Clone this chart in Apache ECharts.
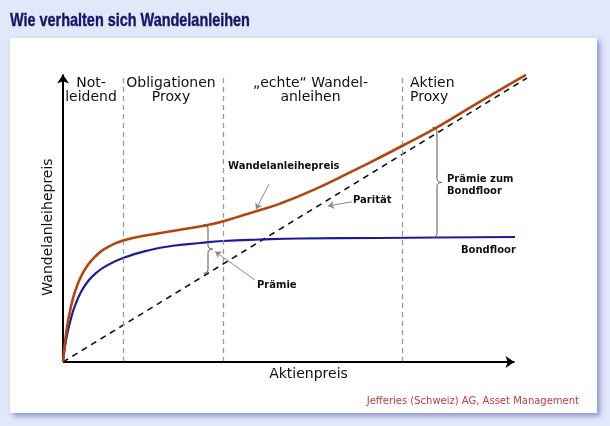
<!DOCTYPE html>
<html>
<head>
<meta charset="utf-8">
<script src="https://cdn.jsdelivr.net/npm/echarts@6/dist/echarts.min.js"></script>
<style>html,body{margin:0;padding:0;background:#e0e8fa;}#c{width:610px;height:426px;}</style>
</head>
<body>
<div id="c"></div>
<script>
// ---- data (x = Aktienpreis, y = Preis; relative units 0..100) ----
const priceCurve = [[0,0],[0.43,6.5],[0.86,11.5],[1.51,17],[2.59,23.5],[3.88,28.5],[5.39,32.4],[7.11,35.4],[9.05,37.8],[12.93,40.5],[18.75,42.4],[25.22,44.1],[31.68,45.8],[38.15,48.6],[41.81,50.3],[46.77,52.8],[53.88,57.3],[61.85,63.2],[67.67,67.7],[73.06,72.0],[80.6,78.2],[89.87,86.8],[99.78,95.67]];
const bondFloor = [[0,0],[0.43,5.2],[1.08,10.5],[1.72,14.5],[2.59,18.8],[3.88,23.3],[5.39,26.9],[7.11,29.6],[9.05,31.8],[12.93,34.67],[18.75,37.33],[24.14,38.83],[29.53,39.67],[34.48,40.33],[42.46,40.83],[51.08,41.17],[68.32,41.33],[80.6,41.5],[97.41,41.67]];
const parity = [[0,0],[100,94.67]];
const zoneBounds = [12.93, 34.48, 73.06];
const zoneLabels = ['Not-\nleidend', 'Obligationen\nProxy', '\u201Eechte\u201C Wandel-\nanleihen', 'Aktien\nProxy'];
const braces = [[31.25, 45.7, 29.6], [80.6, 78.2, 41.5]];
const arrows = [[[44.4,59.3],[41.6,50.9]], [[62.3,53.4],[57.1,52.0]], [[41.4,27.3],[32.8,36.8]]];
const axisEnds = {x: 97.3, y: 95.8};
const axisNames = {x: 'Aktienpreis', y: 'Wandelanleihepreis'};
const titleText = 'Wie verhalten sich Wandelanleihen';
const sourceText = 'Jefferies (Schweiz) AG, Asset Management';

const FONT = '"DejaVu Sans", Verdana, sans-serif';
const chart = echarts.init(document.getElementById('c'), null, {renderer: 'canvas'});

function px(x, y) { return chart.convertToPixel({gridIndex: 0}, [x, y]); }

const baseOption = {
  backgroundColor: '#e0e8fa',
  animation: false,
  grid: {left: 63, right: 83, top: 62, bottom: 64},
  xAxis: {type: 'value', min: 0, max: 100, show: false},
  yAxis: {type: 'value', min: 0, max: 100, show: false},
  series: [
    { name: 'zones', type: 'line', data: [], silent: true, z: 1,
      markLine: { silent: true, symbol: 'none', label: {show: false},
        lineStyle: {color: '#9a9a9a', width: 1.3, type: [5, 4]},
        emphasis: {disabled: true},
        data: zoneBounds.map(b => [{coord: [b, 0]}, {coord: [b, axisEnds.y]}]) } },
    { name: 'Parität', type: 'line', data: parity, symbol: 'none', silent: true, z: 3,
      lineStyle: {color: '#111', width: 1.6, type: [6, 5]} },
    { name: 'Bondfloor', type: 'line', data: bondFloor, symbol: 'none', silent: true, z: 4,
      smooth: 0.5,
      lineStyle: {color: '#1c1c98', width: 2.2} },
    { name: 'Wandelanleihepreis', type: 'line', data: priceCurve, symbol: 'none', silent: true, z: 5,
      smooth: 0.5,
      lineStyle: {color: '#b3450f', width: 2.6} },
    { name: 'arrows', type: 'line', data: [], silent: true, z: 6,
      markLine: { silent: true, symbol: ['none', 'arrow'], symbolSize: 6, label: {show: false},
        lineStyle: {color: '#8a8a8a', width: 1, type: 'solid'},
        emphasis: {disabled: true},
        data: arrows.map(a => [{coord: a[0]}, {coord: a[1]}]) } },
    { name: 'braces', type: 'custom', silent: true, z: 6,
      encode: {x: 0, y: [1, 2]},
      data: braces,
      renderItem: function (params, api) {
        const top = api.coord([api.value(0), api.value(1)]);
        const bot = api.coord([api.value(0), api.value(2)]);
        const sx = top[0], t = top[1], b = bot[1], m = (t + b) / 2, w = 4.5, r = 4;
        const d = 'M' + (sx - w) + ',' + t + ' Q' + sx + ',' + t + ' ' + sx + ',' + (t + r) +
          ' L' + sx + ',' + (m - r) + ' Q' + sx + ',' + m + ' ' + (sx + w) + ',' + m +
          ' Q' + sx + ',' + m + ' ' + sx + ',' + (m + r) + ' L' + sx + ',' + (b - r) +
          ' Q' + sx + ',' + b + ' ' + (sx - w) + ',' + b;
        return {type: 'path', shape: {pathData: d}, style: {stroke: '#555', fill: 'none', lineWidth: 1}};
      } },
    { name: 'axes', type: 'line', data: [], silent: true, z: 8,
      markLine: { silent: true, symbol: ['none', 'arrow'], symbolSize: 9, label: {show: false},
        lineStyle: {color: '#000', width: 2, type: 'solid'},
        emphasis: {disabled: true},
        data: [[{coord: [0, 0]}, {coord: [axisEnds.x, 0]}], [{coord: [0, 0]}, {coord: [0, axisEnds.y]}]] } }
  ]
};
chart.setOption(baseOption);

// ---- texts and panel, placed relative to the grid ----
const graphics = [
  {type: 'rect', z: -10, shape: {x: 10, y: 38, width: 587, height: 375},
   style: {fill: '#ffffff', shadowColor: 'rgba(70,80,170,0.55)', shadowBlur: 5, shadowOffsetX: 3, shadowOffsetY: 3}},
  {type: 'text', x: 10, y: 21, scaleX: 0.78, z: 20,
   style: {text: titleText, font: 'bold 18.5px "Liberation Sans", Arial, sans-serif', fill: '#15166a', verticalAlign: 'middle', stroke: '#15166a', lineWidth: 0.4}},
  {type: 'text', x: 579, y: 401.5, z: 20,
   style: {text: sourceText, font: '10px ' + FONT, fill: '#c33a3a', align: 'right', verticalAlign: 'middle'}}
];
// zone labels
const edges = [0].concat(zoneBounds).concat([100]);
zoneLabels.forEach((t, i) => {
  const last = i === zoneLabels.length - 1;
  const xl = px(edges[i], 0)[0], xr = px(edges[i + 1], 0)[0];
  const cx = last ? xl + 8 : (xl + xr) / 2 - 2;
  graphics.push({type: 'text', x: cx, y: 76, z: 20,
    style: {text: t, font: '14px ' + FONT, fill: '#111', align: last ? 'left' : 'center', verticalAlign: 'top', lineHeight: 14}});
});
// axis names
graphics.push({type: 'text', x: 308.5, y: 374.5, z: 20,
  style: {text: axisNames.x, font: '14px ' + FONT, fill: '#111', align: 'center', verticalAlign: 'middle'}});
graphics.push({type: 'text', x: 48, y: 227, rotation: Math.PI / 2, z: 20,
  style: {text: axisNames.y, font: '14px ' + FONT, fill: '#111', align: 'center', verticalAlign: 'middle'}});
// annotation labels
const notes = [
  ['Wandelanleihepreis', 228, 166],
  ['Parität', 353, 200],
  ['Prämie', 257, 285],
  ['Prämie zum', 447, 179],
  ['Bondfloor', 447, 191.5],
  ['Bondfloor', 461, 250]
];
notes.forEach(n => graphics.push({type: 'text', x: n[1], y: n[2], z: 20,
  style: {text: n[0], font: 'bold 10px ' + FONT, fill: '#111', align: 'left', verticalAlign: 'middle'}}));
chart.setOption({graphic: graphics});
</script>
</body>
</html>
